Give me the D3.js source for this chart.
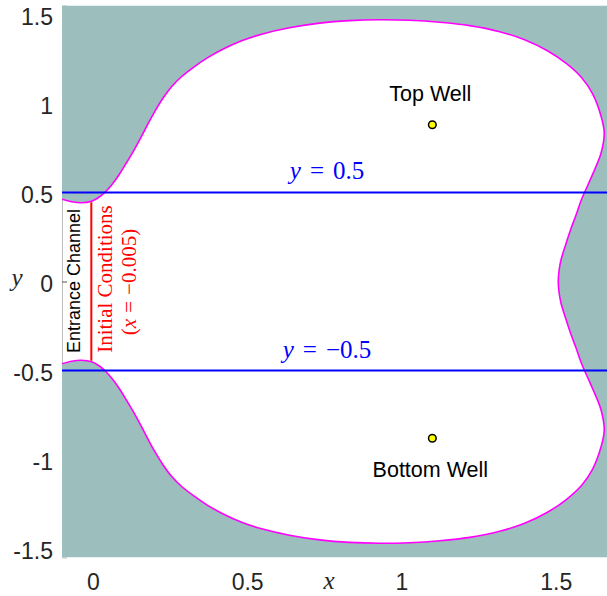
<!DOCTYPE html>
<html>
<head>
<meta charset="utf-8">
<script src="https://cdn.jsdelivr.net/npm/d3@7"></script>
<style>
  body { margin: 0; background: #fff; }
  svg { display: block; }
</style>
</head>
<body>
<div id="chart"></div>
<script>
// tick values
const xTicks = [0, 0.5, 1, 1.5]
const yTicks = [-1.5, -1, -0.5, 0, 0.5, 1, 1.5]

// zero velocity curve: starts at left edge (top of channel),
// goes clockwise round the whole region and ends at left edge (bottom of channel)
const curveX = [
  -0.100, -0.069, -0.037, -0.004, 0.022, 0.041, 0.064, 0.087, 0.109, 0.132, 0.155, 0.177,
  0.200, 0.226, 0.255, 0.287, 0.326, 0.372, 0.424, 0.482, 0.547, 0.637, 0.735, 0.832,
  0.929, 1.026, 1.124, 1.221, 1.318, 1.399, 1.473, 1.535, 1.584, 1.619, 1.647, 1.657,
  1.647, 1.626, 1.603, 1.583, 1.566, 1.548, 1.532, 1.517, 1.511, 1.508,
  1.511, 1.517, 1.532, 1.548, 1.566, 1.583, 1.603, 1.626, 1.647,
  1.657, 1.647, 1.619, 1.584, 1.535, 1.473, 1.399, 1.318, 1.221, 1.124, 1.026, 0.929,
  0.832, 0.735, 0.637, 0.547, 0.482, 0.424, 0.372, 0.326, 0.287, 0.255, 0.226, 0.200,
  0.177, 0.155, 0.132, 0.109, 0.087, 0.064, 0.041, 0.022, -0.004, -0.037, -0.069, -0.100
]
const curveY = [
  0.462, 0.448, 0.442, 0.451, 0.476, 0.504, 0.549, 0.605, 0.667, 0.734, 0.807, 0.880,
  0.953, 1.026, 1.094, 1.150, 1.203, 1.257, 1.307, 1.352, 1.389, 1.425, 1.451, 1.465,
  1.470, 1.467, 1.456, 1.437, 1.403, 1.358, 1.296, 1.223, 1.144, 1.055, 0.927, 0.835,
  0.723, 0.628, 0.538, 0.459, 0.375, 0.291, 0.207, 0.122, 0.066, 0.000,
  -0.066, -0.122, -0.207, -0.291, -0.375, -0.459, -0.538, -0.628, -0.723,
  -0.835, -0.927, -1.055, -1.144, -1.223, -1.296, -1.358, -1.403, -1.437, -1.456, -1.467, -1.470,
  -1.465, -1.451, -1.425, -1.389, -1.352, -1.307, -1.257, -1.203, -1.150, -1.094, -1.026, -0.953,
  -0.880, -0.807, -0.734, -0.667, -0.605, -0.549, -0.504, -0.476, -0.451, -0.442, -0.448, -0.462
]

// wells
const wellX = [1.1, 1.1]
const wellY = [0.88, -0.88]
const wellNames = ['Top Well', 'Bottom Well']

// horizontal section lines
const sectionY = [0.5, -0.5]
const sectionLabels = ['0.5', '\u22120.5']

// initial conditions line
const icX = -0.005
const icY = [0.445, -0.445]

const width = 607
const height = 596

var x = d3.scaleLinear().domain([-0.1, 1.7]).range([62, 617.5])
var y = d3.scaleLinear().domain([-1.55, 1.55]).range([557.5, 5.5])

const svg = d3.select('#chart')
  .append('svg')
  .attr('width', width)
  .attr('height', height)
  .style('font-family', '"Liberation Sans", Arial, sans-serif')

svg.append('defs').append('clipPath')
  .attr('id', 'plotClip')
  .append('rect')
  .attr('x', x(-0.1)).attr('y', y(1.55))
  .attr('width', x(1.7) - x(-0.1)).attr('height', y(-1.55) - y(1.55))

var pts = curveX.map((d, i) => [d, curveY[i]])

// left axis line + ticks (sits behind the teal patch)
var yAxis = d3.axisLeft(y).tickValues(yTicks).tickSize(-5).tickFormat(d => String(d))
var gy = svg.append('g')
  .attr('transform', 'translate(' + x(-0.1) + ',0)')
  .call(yAxis)
gy.select('.domain').attr('stroke', '#bdbdbd').attr('stroke-width', 1)
gy.selectAll('.tick line').attr('stroke', '#555')
gy.selectAll('.tick text')
  .attr('x', -9)
  .attr('dy', '0.42em')
  .attr('fill', '#262626')
  .style('font-size', '23px')
  .style('font-family', '"Liberation Sans", Arial, sans-serif')

var xAxis = d3.axisBottom(x).tickValues(xTicks).tickSize(0).tickFormat(d => String(d))
var gx = svg.append('g')
  .attr('transform', 'translate(0,' + y(-1.55) + ')')
  .call(xAxis)
gx.select('.domain').remove()
gx.selectAll('.tick text')
  .attr('y', 32)
  .attr('dy', 0)
  .attr('fill', '#262626')
  .style('font-size', '23px')
  .style('font-family', '"Liberation Sans", Arial, sans-serif')

var plot = svg.append('g').attr('clip-path', 'url(#plotClip)')

// forbidden region = plot rect minus the allowed region
var line = d3.line()
  .x(d => x(d[0]))
  .y(d => y(d[1]))
  .curve(d3.curveCatmullRom.alpha(0.5))

var rectPath = 'M' + x(-0.1) + ',' + y(1.55) + 'H' + x(1.7) + 'V' + y(-1.55) + 'H' + x(-0.1) + 'Z'
plot.append('path')
  .attr('d', rectPath + line(pts) + 'Z')
  .attr('fill', '#9cbfbe')
  .attr('fill-rule', 'evenodd')

plot.append('path')
  .attr('d', line(pts))
  .attr('fill', 'none')
  .attr('stroke', '#ff00ff')
  .attr('stroke-width', 1.6)

plot.selectAll('.section')
  .data(sectionY)
  .enter().append('line')
  .attr('class', 'section')
  .attr('x1', x(-0.1)).attr('x2', x(1.7))
  .attr('y1', d => y(d)).attr('y2', d => y(d))
  .attr('stroke', '#0000ff')
  .attr('stroke-width', 2)

plot.append('line')
  .attr('x1', x(icX)).attr('x2', x(icX))
  .attr('y1', y(icY[0])).attr('y2', y(icY[1]))
  .attr('stroke', '#ff0000')
  .attr('stroke-width', 2)

// section labels (latex style)
sectionY.forEach(function(v, i) {
  var t = svg.append('text')
    .attr('x', 327)
    .attr('y', y(v) - 13)
    .attr('text-anchor', 'middle')
    .attr('fill', '#0000ff')
    .style('font-family', '"Liberation Serif", "Times New Roman", serif')
    .style('font-size', '25px')
  t.append('tspan').style('font-style', 'italic').text('y')
  t.append('tspan').attr('dx', 9).text('=')
  t.append('tspan').attr('dx', 9).text(sectionLabels[i])
})

// wells
plot.selectAll('.well')
  .data(wellX)
  .enter().append('circle')
  .attr('class', 'well')
  .attr('cx', d => x(d))
  .attr('cy', (d, i) => y(wellY[i]))
  .attr('r', 3.8)
  .attr('fill', '#ffff00')
  .attr('stroke', '#000')
  .attr('stroke-width', 1.5)

svg.selectAll('.wellLabel')
  .data(wellNames)
  .enter().append('text')
  .attr('class', 'wellLabel')
  .attr('x', (d, i) => x(wellX[i]) - 2)
  .attr('y', (d, i) => i == 0 ? y(wellY[i]) - 24 : y(wellY[i]) + 39)
  .attr('text-anchor', 'middle')
  .attr('fill', '#000')
  .style('font-size', '21.5px')
  .text(d => d)

svg.append('text')
  .attr('transform', 'translate(79.5,281) rotate(-90)')
  .attr('text-anchor', 'middle')
  .style('font-size', '18px')
  .attr('fill', '#000')
  .text('Entrance Channel')

svg.append('text')
  .attr('transform', 'translate(111.5,279) rotate(-90)')
  .attr('text-anchor', 'middle')
  .attr('fill', '#ff0000')
  .style('font-family', '"Liberation Serif", "Times New Roman", serif')
  .style('font-size', '21px')
  .text('Initial Conditions')

var ic = svg.append('text')
  .attr('transform', 'translate(136,282) rotate(-90)')
  .attr('text-anchor', 'middle')
  .attr('fill', '#ff0000')
  .style('font-family', '"Liberation Serif", "Times New Roman", serif')
  .style('font-size', '21px')
ic.append('tspan').text('(')
ic.append('tspan').style('font-style', 'italic').text('x')
ic.append('tspan').attr('dx', 6).text('=')
ic.append('tspan').attr('dx', 6).text('\u22120.005)')

// axis labels
svg.append('text')
  .attr('x', 329).attr('y', 589)
  .attr('text-anchor', 'middle')
  .attr('fill', '#262626')
  .style('font-family', '"Liberation Serif", "Times New Roman", serif')
  .style('font-style', 'italic')
  .style('font-size', '25px')
  .text('x')

svg.append('text')
  .attr('x', 17).attr('y', 286)
  .attr('text-anchor', 'middle')
  .attr('fill', '#262626')
  .style('font-family', '"Liberation Serif", "Times New Roman", serif')
  .style('font-style', 'italic')
  .style('font-size', '25px')
  .text('y')
</script>
</body>
</html>
